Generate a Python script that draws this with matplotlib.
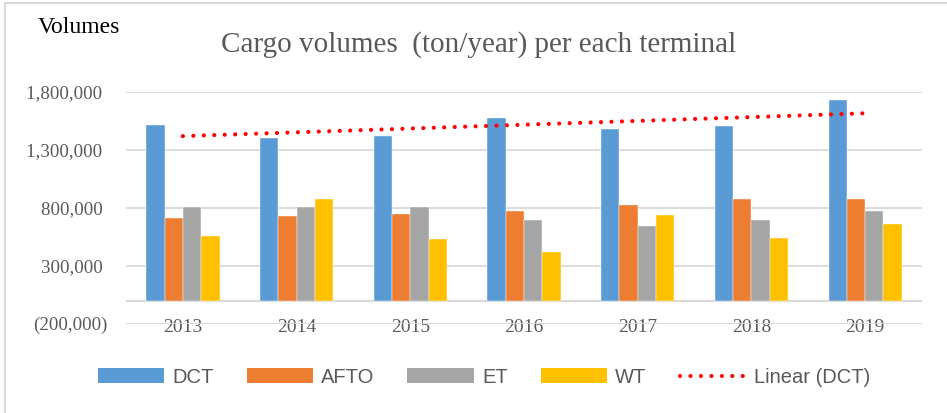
import matplotlib
matplotlib.use("Agg")
import matplotlib.pyplot as plt
import numpy as np
from matplotlib.patches import Patch, Rectangle
from matplotlib.lines import Line2D
from matplotlib.ticker import FuncFormatter

# Data (tons per year)
years = ["2013", "2014", "2015", "2016", "2017", "2018", "2019"]
dct = [1510000, 1401000, 1415000, 1576000, 1481000, 1501000, 1728000]
afto = [711000, 728000, 743000, 769000, 823000, 872000, 872000]
et = [806000, 809000, 806000, 694000, 640000, 697000, 772000]
wt = [553000, 875000, 530000, 421000, 737000, 536000, 657000]
series_names = ["DCT", "AFTO", "ET", "WT"]
colors = ["#5B9BD5", "#ED7D31", "#A5A5A5", "#FFC000"]

SERIF = ["Liberation Serif", "DejaVu Serif"]
SANS = ["Liberation Sans", "DejaVu Sans"]
GRAY = "#595959"
GRID = "#D9D9D9"


def fmt_tick(v, pos):
    # accounting style: negatives in parentheses
    if v < 0:
        return f"({abs(v):,.0f})"
    return f"{v:,.0f} "


fig = plt.figure(figsize=(9.47, 4.13), dpi=100)
ax = fig.add_axes([0.1331, 0.2162, 0.8405, 0.5616])

x = np.arange(len(years))
w = 0.161
for i, (vals, col) in enumerate(zip([dct, afto, et, wt], colors)):
    ax.bar(x + (i - 1.5) * w, vals, width=w, color=col, zorder=3,
           edgecolor="white", linewidth=0.3)

# linear trend of DCT
coef = np.polyfit(x, dct, 1)
trend = np.polyval(coef, x)
ax.plot(x, trend, color="#FF0000", linewidth=3.0,
        linestyle=(0, (0.01, 2.5)), dash_capstyle="round", zorder=4)

ax.set_xlim(-0.5, len(years) - 0.5)
ax.set_ylim(-200000, 1800000)
ax.set_yticks([-200000, 300000, 800000, 1300000, 1800000])
ax.yaxis.set_major_formatter(FuncFormatter(fmt_tick))
ax.grid(axis="y", color=GRID, linewidth=1.3, zorder=0)
ax.axhline(0, color=GRID, linewidth=1.5, zorder=2)
for s in ax.spines.values():
    s.set_visible(False)

ax.set_xticks(x)
ax.set_xticklabels(years)
ax.tick_params(axis="x", length=0, pad=-3.5, labelsize=14, labelcolor=GRAY)
ax.tick_params(axis="y", length=0, pad=13.7, labelsize=13.6, labelcolor=GRAY)
for lab in ax.get_xticklabels() + ax.get_yticklabels():
    lab.set_family(SERIF)

fig.text(38 / 947, 1 - 33 / 413, "Volumes", family=SERIF, fontsize=17,
         color="black", ha="left", va="baseline")
fig.text(479 / 947, 1 - 52 / 413, "Cargo volumes  (ton/year) per each terminal",
         family=SERIF, fontsize=21, color=GRAY, ha="center", va="baseline")

handles = [Patch(facecolor=c) for c in colors]
handles.append(Line2D([], [], color="#FF0000", linewidth=3.0,
                      linestyle=(0, (0.01, 2.5)), dash_capstyle="round"))
labels = series_names + ["Linear (DCT)"]
leg = fig.legend(handles, labels, loc="center", bbox_to_anchor=(484 / 947, 0.087),
                 ncol=5, frameon=False, handlelength=3.3, handleheight=0.7,
                 handletextpad=0.4, columnspacing=1.64,
                 prop={"family": SANS, "size": 14.5})
for t in leg.get_texts():
    t.set_color(GRAY)

# chart area border
fig.patches.append(Rectangle((5 / 947, -0.02), 1.0, 1 - 3 / 413 + 0.02,
                             transform=fig.transFigure, fill=False,
                             edgecolor=GRID, linewidth=1.5))

fig.savefig("out.png", dpi=100)
